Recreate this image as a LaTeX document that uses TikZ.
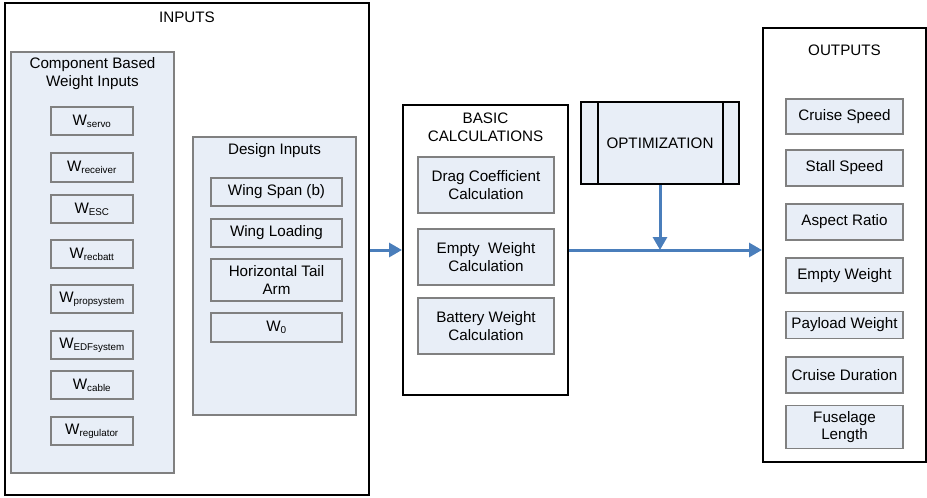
\documentclass[tikz,border=0pt]{standalone}
\usepackage{fontspec}
\setmainfont{Liberation Sans}
\usetikzlibrary{arrows.meta}
\definecolor{boxfill}{HTML}{E8EEF7}
\definecolor{boxedge}{HTML}{808080}
\definecolor{flowblue}{HTML}{4A7EBB}
\tikzset{
  frame/.style={draw=black, line width=2pt, fill=white, inner sep=0pt},
  group/.style={draw=boxedge, line width=1.2pt, fill=boxfill, inner sep=0pt},
  item/.style={draw=boxedge, line width=1.2pt, fill=boxfill, inner sep=0pt,
    align=center, font=\fontsize{15.2}{17.5}\selectfont},
  heading/.style={align=center, inner sep=0pt, font=\fontsize{15.2}{18}\selectfont},
  flow/.style={draw=flowblue, line width=3pt, -{Triangle[length=13pt,width=14pt]}}
}
\newcommand{\wsub}[1]{W\textsubscript{\fontsize{9.8}{9.8}\selectfont #1}}
\begin{document}
\begin{tikzpicture}[x=1pt,y=-1pt]
\useasboundingbox (0,0) rectangle (927,498);

% ---------- inputs ----------
\node[frame, minimum width=364pt, minimum height=492pt] (inputs) at (187,249) {};
\node[heading] (inputsT) at (187,17) {INPUTS};

\node[group, minimum width=163pt, minimum height=421pt] (comp) at (92.5,262.5) {};
\node[heading] (compT) at (92.5,74) {Component Based\\Weight Inputs};

\tikzset{wbox/.style={item, minimum width=82pt}}
\node[wbox, minimum height=28pt] (wservo) at (92,121) {\wsub{servo}};
\node[wbox, minimum height=29pt] (wrec)   at (92,167.5) {\wsub{receiver}};
\node[wbox, minimum height=28pt] (wesc)   at (92,209) {\wsub{ESC}};
\node[wbox, minimum height=28pt] (wbatt)  at (92,254) {\wsub{recbatt}};
\node[wbox, minimum height=28pt] (wprop)  at (92,299) {\wsub{propsystem}};
\node[wbox, minimum height=28pt] (wedf)   at (92,345) {\wsub{EDFsystem}};
\node[wbox, minimum height=28pt] (wcable) at (92,385) {\wsub{cable}};
\node[wbox, minimum height=28pt] (wreg)   at (92,431) {\wsub{regulator}};

\node[group, minimum width=163pt, minimum height=278pt] (design) at (274.5,276) {};
\node[heading] (designT) at (274.5,151) {Design Inputs};

\tikzset{dbox/.style={item, minimum width=131pt}}
\node[dbox, minimum height=28pt] (span) at (276.5,192) {Wing Span (b)};
\node[dbox, minimum height=28pt] (load) at (276.5,233) {Wing Loading};
\node[dbox, minimum height=42pt] (tail) at (276.5,280) {Horizontal Tail\\Arm};
\node[dbox, minimum height=29pt] (wzero) at (276.5,327.5) {W\textsubscript{\fontsize{10}{10}\selectfont 0}};

% ---------- basic calculations ----------
\node[frame, minimum width=165pt, minimum height=290pt] (basic) at (485.5,250) {};
\node[heading] (basicT) at (485.5,127) {BASIC\\CALCULATIONS};

\tikzset{cbox/.style={item, minimum width=136pt, minimum height=56pt}}
\node[cbox] (drag)  at (486,185) {Drag Coefficient\\Calculation};
\node[cbox] (empty) at (486,257) {Empty\ \ Weight\\Calculation};
\node[cbox] (batt)  at (486,326) {Battery Weight\\Calculation};

% ---------- optimization ----------
\node[frame, fill=boxfill, minimum width=158pt, minimum height=82pt,
      font=\fontsize{15.2}{17.5}\selectfont] (opt) at (660,143) {OPTIMIZATION};
\draw[line width=2pt] (598,0 |- opt.north) -- (598,0 |- opt.south);
\draw[line width=2pt] (723,0 |- opt.north) -- (723,0 |- opt.south);

% ---------- outputs ----------
\node[frame, minimum width=163pt, minimum height=434pt] (outputs) at (844.5,245) {};
\node[heading] (outputsT) at (844.5,50) {OUTPUTS};

\tikzset{obox/.style={item, minimum width=117pt}}
\node[obox, minimum height=35pt] (cruise) at (844.5,116.5) {Cruise Speed};
\node[obox, minimum height=36pt] (stall)  at (844.5,168) {Stall Speed};
\node[obox, minimum height=36pt] (aspect) at (844.5,222) {Aspect Ratio};
\node[obox, minimum height=35pt] (oempty) at (844.5,275.5) {Empty Weight};
\node[obox, minimum height=27pt] (payload) at (844.5,325) {Payload Weight};
\node[obox, minimum height=36pt] (cdur)   at (844.5,375) {Cruise Duration};
\node[obox, minimum height=43pt] (fuse)   at (844.5,427) {Fuselage\\Length};

% ---------- flow ----------
\coordinate (joint) at (opt.south |- basic.east);
\draw[flow] (inputs.east |- basic.west) -- (basic.west);
\draw[flow] (basic.east) -- (basic.east -| outputs.west);
\draw[flow] (opt.south) -- (joint);
\end{tikzpicture}
\end{document}
